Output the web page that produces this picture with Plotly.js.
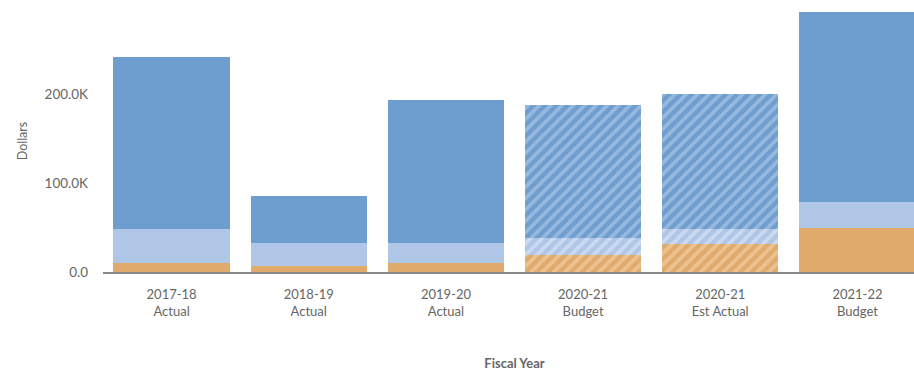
<!DOCTYPE html>
<html>
<head>
<meta charset="utf-8">
<script src="https://cdn.plot.ly/plotly-3.0.1.min.js"></script>
<style>
html,body{margin:0;padding:0;overflow:hidden;background:#fff;width:914px;height:371px;}
#chart{width:926px;height:371px;}
</style>
</head>
<body>
<div id="chart"></div>
<script>
const categories = ["2017-18<br>Actual","2018-19<br>Actual","2019-20<br>Actual","2020-21<br>Budget","2020-21<br>Est Actual","2021-22<br>Budget"];
const orangeValues = [10300, 7300, 10700, 19700, 31000, 49000];
const lightBlueValues = [38200, 25700, 22300, 18700, 17500, 30000];
const blueValues = [193500, 53000, 161000, 149600, 152000, 214000];
const hatched = ["", "", "", "/", "/", ""];
const yTickVals = [0, 100000, 200000];
const yTickText = ["0.0", "100.0K", "200.0K"];

function mk(name, vals, color, stripe){
  return {
    type: 'bar', name: name, x: categories, y: vals,
    marker: {
      color: color,
      line: {width: 0},
      pattern: {shape: hatched, fgcolor: stripe, bgcolor: color, size: 8, solidity: 0.45, fillmode: 'overlay'}
    },
    hoverinfo: 'y'
  };
}
const data = [
  mk('Orange', orangeValues, '#e0aa6c', '#f5dcb8'),
  mk('Light Blue', lightBlueValues, '#afc6e6', '#e6eef9'),
  mk('Blue', blueValues, '#6e9dcf', '#c2d6ee')
];
const layout = {
  width: 926, height: 371,
  margin: {l: 103, r: 0, t: 10, b: 98.5},
  barmode: 'stack', bargap: 0.153,
  showlegend: false,
  paper_bgcolor: '#fff', plot_bgcolor: '#fff',
  font: {family: 'Lato, "Open Sans", sans-serif', color: '#666', size: 13},
  xaxis: {
    range: [-0.5, 5.5], showgrid: false, zeroline: false,
    showline: true, linecolor: '#888', linewidth: 2,
    ticks: '', tickfont: {size: 13, color: '#666'}, ticklabelstandoff: 9,
    title: {text: 'Fiscal Year', font: {size: 13, color: '#666', weight: 'bold'}, standoff: 50}
  },
  yaxis: {
    range: [0, 295000], showgrid: false, zeroline: false, showline: false,
    tickvals: yTickVals, ticktext: yTickText, ticks: '',
    tickfont: {size: 13.5, color: '#666'}, ticklabelstandoff: 14,
    title: {text: 'Dollars', font: {size: 12.5, color: '#666'}, standoff: 14}
  }
};
Plotly.newPlot('chart', data, layout, {displayModeBar: false, staticPlot: true});
</script>
</body>
</html>
